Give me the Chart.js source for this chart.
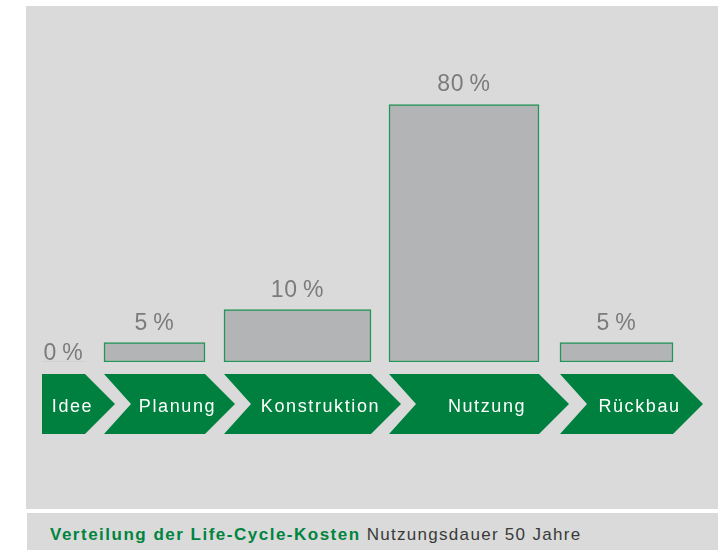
<!DOCTYPE html>
<html>
<head>
<meta charset="utf-8">
<script src="https://cdn.jsdelivr.net/npm/chart.js@4/dist/chart.umd.min.js"></script>
<style>
  html, body { margin: 0; padding: 0; width: 725px; height: 550px; overflow: hidden; background: #fff; }
  #panel { position: absolute; left: 26px; top: 6px; width: 692px; height: 503px; background: #d9dad9; }
  #caption {
    position: absolute; left: 27px; top: 513px; width: 691px; height: 37px;
    box-sizing: border-box; padding: 7px 0 0 23px; line-height: 30px;
    background: #d9dad9; color: #3a3a3a;
    font-family: "Liberation Sans", Arial, sans-serif; font-size: 17px; letter-spacing: 1.3px;
  }
  #caption b { color: #00843f; letter-spacing: 1.5px; }
</style>
</head>
<body>
<div id="panel"><canvas id="lccChart" width="692" height="503"></canvas></div>
<div id="caption"><b>Verteilung der Life-Cycle-Kosten</b> Nutzungsdauer 50 Jahre</div>
<script>
// phases and their share of the life-cycle costs (%)
const phases = ['Idee', 'Planung', 'Konstruktion', 'Nutzung', 'Rückbau'];
const costShare = [0, 5, 10, 80, 5];
const shareLabels = costShare.map(v => v + '\u200A\u200A%');

// layout of the phase arrows along the x axis (page px units)
const phaseLeft = [42, 104, 224, 389, 560];
const phaseRight = [85, 205, 371, 539, 673];

const GREEN = '#00803e';
const TIP = 30;      // arrow point depth
const NOTCH = 27;    // notch depth
const SHIFT = 1.687; // bar heights in the source follow sqrt(v) minus an offset

// y scale that reproduces the non-linear bar heights of the original
class SqrtOffsetScale extends Chart.LinearScale {
    static id = 'sqrtOffset';
    static defaults = Chart.LinearScale.defaults;

    _t(v) {
        return Math.max(0, Math.sqrt(Math.max(v, 0)) - SHIFT);
    }

    getPixelForValue(value) {
        const lo = this._t(this.min), hi = this._t(this.max);
        return this.getPixelForDecimal((this._t(value) - lo) / (hi - lo));
    }

    getValueForPixel(pixel) {
        const lo = this._t(this.min), hi = this._t(this.max);
        const t = this.getDecimalForPixel(pixel) * (hi - lo) + lo;
        return Math.pow(t + SHIFT, 2);
    }
}
Chart.register(SqrtOffsetScale);

const arrowPlugin = {
    id: 'phaseArrows',
    beforeDatasetsDraw(chart) {
        const { ctx, chartArea, scales: { x } } = chart;
        const top = chartArea.bottom + 12;
        const bottom = top + 60;
        const mid = (top + bottom) / 2;
        ctx.save();
        phases.forEach((name, i) => {
            const left = x.getPixelForValue(phaseLeft[i]);
            const right = x.getPixelForValue(phaseRight[i]);
            const tip = right + TIP;
            ctx.beginPath();
            ctx.moveTo(left, top);
            ctx.lineTo(right, top);
            ctx.lineTo(tip, mid);
            ctx.lineTo(right, bottom);
            ctx.lineTo(left, bottom);
            if (i > 0) ctx.lineTo(left + NOTCH, mid);
            ctx.closePath();
            ctx.fillStyle = GREEN;
            ctx.fill();

            ctx.fillStyle = '#ffffff';
            ctx.font = '18px "Liberation Sans", Arial, sans-serif';
            ctx.letterSpacing = '1.6px';
            ctx.textAlign = 'center';
            ctx.textBaseline = 'alphabetic';
            const cx = (left + tip) / 2 + (i === 0 ? -6 : 8);
            ctx.fillText(name, cx, mid + 7.5);
        });
        ctx.restore();
    },
    afterDatasetsDraw(chart) {
        const { ctx } = chart;
        ctx.save();
        ctx.fillStyle = '#7b7b7b';
        ctx.font = '23px "Liberation Sans", Arial, sans-serif';
        ctx.letterSpacing = '0.7px';
        ctx.textAlign = 'center';
        ctx.textBaseline = 'alphabetic';
        costShare.forEach((v, i) => {
            const bar = chart.getDatasetMeta(i).data[0];
            ctx.fillText(shareLabels[i], bar.x, bar.y - (v > 0 ? 13 : 2));
        });
        ctx.restore();
    }
};

const ctx = document.getElementById('lccChart').getContext('2d');
new Chart(ctx, {
    type: 'bar',
    data: {
        datasets: phases.map((name, i) => ({
            label: name,
            data: [{ x: (phaseLeft[i] + phaseRight[i]) / 2, y: costShare[i] }],
            barThickness: phaseRight[i] - phaseLeft[i],
            stack: 'phase',
            backgroundColor: '#b3b4b6',
            borderColor: '#229558',
            borderWidth: costShare[i] > 0 ? 1.5 : 0,
            borderSkipped: false,
        })),
    },
    options: {
        responsive: false,
        animation: false,
        devicePixelRatio: 1,
        layout: { padding: { top: 61, bottom: 147, left: 0, right: 0 } },
        scales: {
            x: { type: 'linear', min: 26, max: 718, offset: false, stacked: true, display: false },
            y: { type: 'sqrtOffset', min: 0, max: 100, stacked: true, display: false },
        },
        plugins: {
            legend: { display: false },
            tooltip: { enabled: false },
        },
    },
    plugins: [arrowPlugin],
});
</script>
</body>
</html>
